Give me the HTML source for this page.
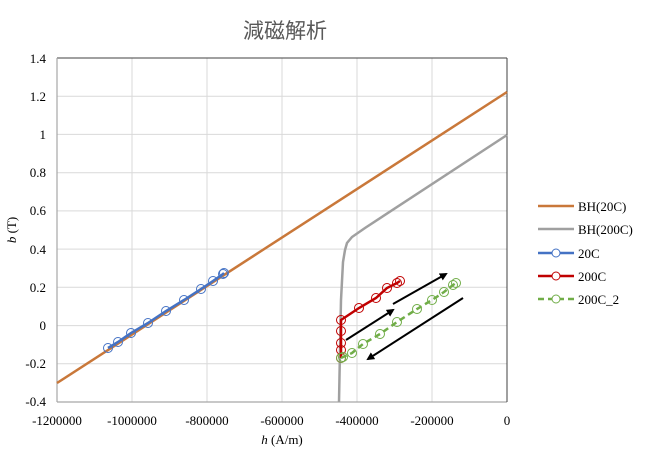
<!DOCTYPE html>
<html><head><meta charset="utf-8"><style>
html,body{margin:0;padding:0;background:#fff;}
svg{display:block;font-family:"Liberation Serif","Noto Serif CJK SC",serif;}
</style></head><body>
<svg width="668" height="450" viewBox="0 0 668 450" xmlns="http://www.w3.org/2000/svg">
<rect width="668" height="450" fill="#fff"/>
<text x="285" y="38" font-family="Liberation Sans, Noto Sans CJK JP, sans-serif" font-size="21" fill="#595959" text-anchor="middle">減磁解析</text>
<g stroke="#d9d9d9" stroke-width="1">
<line x1="57" y1="96.2" x2="507" y2="96.2"/><line x1="57" y1="134.4" x2="507" y2="134.4"/>
<line x1="57" y1="172.7" x2="507" y2="172.7"/><line x1="57" y1="210.9" x2="507" y2="210.9"/>
<line x1="57" y1="249.1" x2="507" y2="249.1"/><line x1="57" y1="287.3" x2="507" y2="287.3"/>
<line x1="57" y1="325.6" x2="507" y2="325.6"/><line x1="57" y1="363.8" x2="507" y2="363.8"/>
<line x1="132" y1="58" x2="132" y2="402"/><line x1="207" y1="58" x2="207" y2="402"/>
<line x1="282" y1="58" x2="282" y2="402"/><line x1="357" y1="58" x2="357" y2="402"/>
<line x1="432" y1="58" x2="432" y2="402"/>
</g>
<line x1="57" y1="58" x2="507" y2="58" stroke="#404040" stroke-width="1"/>
<line x1="57" y1="58" x2="57" y2="402" stroke="#a6a6a6" stroke-width="1.2"/>
<line x1="57" y1="402" x2="507" y2="402" stroke="#a6a6a6" stroke-width="1.2"/>
<line x1="507" y1="58" x2="507" y2="402" stroke="#404040" stroke-width="1"/>
<g font-size="13" fill="#000" text-anchor="end">
<text x="46" y="63">1.4</text><text x="46" y="101">1.2</text><text x="46" y="139">1</text>
<text x="46" y="177">0.8</text><text x="46" y="215">0.6</text><text x="46" y="254">0.4</text>
<text x="46" y="292">0.2</text><text x="46" y="330">0</text><text x="46" y="368">-0.2</text>
<text x="46" y="406">-0.4</text>
</g>
<g font-size="13" fill="#000" text-anchor="middle">
<text x="57" y="425">-1200000</text><text x="132" y="425">-1000000</text><text x="207" y="425">-800000</text>
<text x="282" y="425">-600000</text><text x="357" y="425">-400000</text><text x="432" y="425">-200000</text>
<text x="507" y="425">0</text>
<text x="282" y="444"><tspan font-style="italic">h</tspan> (A/m)</text>
</g>
<text transform="translate(16,230) rotate(-90)" font-size="13" text-anchor="middle"><tspan font-style="italic">b</tspan> (T)</text>
<!-- BH20C -->
<line x1="57" y1="383" x2="507" y2="92" stroke="#c9783a" stroke-width="2.5"/>
<!-- BH200C -->
<polyline points="507,135 365,228 352,237 347,243 345,250 343,262 341,300 340,350 339,402" fill="none" stroke="#a0a0a0" stroke-width="2.5"/>
<!-- 20C -->
<polyline points="108,348 118,342 131,333 148,323 166,311 184,300 201,289 213,281 223,274 224,273" fill="none" stroke="#4472c4" stroke-width="2.5"/>
<g fill="none" stroke="#4472c4" stroke-width="1">
<circle cx="108" cy="348" r="4.5"/><circle cx="118" cy="342" r="4.5"/><circle cx="131" cy="333" r="4.5"/><circle cx="148" cy="323" r="4.5"/><circle cx="166" cy="311" r="4.5"/><circle cx="184" cy="300" r="4.5"/><circle cx="201" cy="289" r="4.5"/><circle cx="213" cy="281" r="4.5"/><circle cx="223" cy="274" r="4.5"/><circle cx="224" cy="273" r="4.5"/>
</g>
<!-- 200C -->
<polyline points="341,358 341,350 341,343 341,331 341,320 359,308 376,298 387,288 397,283 400,281" fill="none" stroke="#c00000" stroke-width="2.5"/>
<g fill="none" stroke="#c00000" stroke-width="1">
<circle cx="341" cy="358" r="4.5"/><circle cx="341" cy="350" r="4.5"/><circle cx="341" cy="343" r="4.5"/><circle cx="341" cy="331" r="4.5"/><circle cx="341" cy="320" r="4.5"/><circle cx="359" cy="308" r="4.5"/><circle cx="376" cy="298" r="4.5"/><circle cx="387" cy="288" r="4.5"/><circle cx="397" cy="283" r="4.5"/><circle cx="400" cy="281" r="4.5"/>
</g>
<!-- 200C_2 -->
<polyline points="341,358 352,353 363,344 380,334 397,322 417,309 432,300 444,292 453,285 456,283" fill="none" stroke="#70ad47" stroke-width="2.5" stroke-dasharray="6,4"/>
<g fill="none" stroke="#70ad47" stroke-width="1">
<circle cx="341" cy="358" r="4.5"/><circle cx="343" cy="357" r="4.5"/><circle cx="352" cy="353" r="4.5"/><circle cx="363" cy="344" r="4.5"/><circle cx="380" cy="334" r="4.5"/><circle cx="397" cy="322" r="4.5"/><circle cx="417" cy="309" r="4.5"/><circle cx="432" cy="300" r="4.5"/><circle cx="444" cy="292" r="4.5"/><circle cx="453" cy="285" r="4.5"/><circle cx="456" cy="283" r="4.5"/>
</g>
<!-- arrows -->
<defs><marker id="ah" markerWidth="8" markerHeight="8" refX="6" refY="4" orient="auto" markerUnits="userSpaceOnUse"><path d="M0,0 L8,4 L0,8 z" fill="#000"/></marker></defs>
<g stroke="#000" stroke-width="2" marker-end="url(#ah)">
<line x1="346" y1="340" x2="393" y2="310"/>
<line x1="393" y1="304" x2="446" y2="274"/>
<line x1="463" y1="298" x2="368" y2="359"/>
</g>
<!-- legend -->
<g font-size="13" fill="#000">
<line x1="538" y1="206" x2="574" y2="206" stroke="#c9783a" stroke-width="2.5"/><text x="578" y="211">BH(20C)</text>
<line x1="538" y1="229" x2="574" y2="229" stroke="#a0a0a0" stroke-width="2.5"/><text x="578" y="234">BH(200C)</text>
<line x1="538" y1="253" x2="574" y2="253" stroke="#4472c4" stroke-width="2.5"/><circle cx="556" cy="253" r="4" fill="#fff" stroke="#4472c4"/><text x="578" y="258">20C</text>
<line x1="538" y1="276" x2="574" y2="276" stroke="#c00000" stroke-width="2.5"/><circle cx="556" cy="276" r="4" fill="#fff" stroke="#c00000"/><text x="578" y="281">200C</text>
<line x1="538" y1="299" x2="574" y2="299" stroke="#70ad47" stroke-width="2.5" stroke-dasharray="6,4"/><circle cx="556" cy="299" r="4" fill="#fff" stroke="#70ad47"/><text x="578" y="304">200C_2</text>
</g>
</svg>
</body></html>
